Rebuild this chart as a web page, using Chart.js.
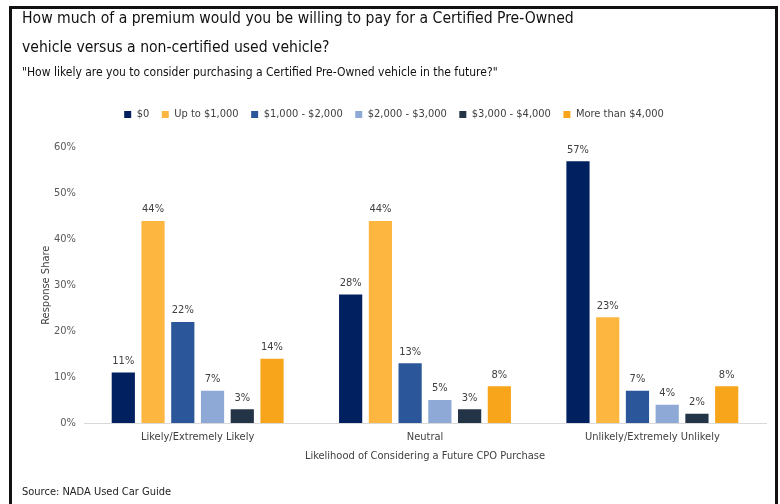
<!DOCTYPE html>
<html lang="en">
<head>
<meta charset="utf-8">
<title>CPO premium by purchase likelihood</title>
<script src="https://cdn.jsdelivr.net/npm/chart.js@4.4.0/dist/chart.umd.min.js"></script>
<style>
  html, body { margin: 0; padding: 0; background: #fff; }
</style>
</head>
<body>
<canvas id="cpoChart" width="780" height="504"></canvas>
<script>
// survey answers, % of respondents
const categories = ['Likely/Extremely Likely', 'Neutral', 'Unlikely/Extremely Unlikely'];
const premiumNone = [11, 28, 57];
const premiumUpTo1000 = [44, 44, 23];
const premium1000to2000 = [22, 13, 7];
const premium2000to3000 = [7, 5, 4];
const premium3000to4000 = [3, 3, 2];
const premiumOver4000 = [14, 8, 8];
const seriesNames = ['$0', 'Up to $1,000', '$1,000 - $2,000', '$2,000 - $3,000', '$3,000 - $4,000', 'More than $4,000'];
const yMax = 60;
const yStep = 10;

const FONT = '"DejaVu Sans Condensed", sans-serif';
const colors = ['#002060', '#FDB740', '#2B579A', '#8EA9D6', '#243447', '#F8A51B'];
const values = [premiumNone, premiumUpTo1000, premium1000to2000, premium2000to3000, premium3000to4000, premiumOver4000];

// value labels above each bar
const barLabels = {
  id: 'barLabels',
  afterDatasetsDraw(chart) {
    const ctx = chart.ctx;
    ctx.save();
    ctx.font = '11px ' + FONT;
    ctx.fillStyle = '#404040';
    ctx.textAlign = 'center';
    ctx.textBaseline = 'bottom';
    chart.data.datasets.forEach((ds, i) => {
      chart.getDatasetMeta(i).data.forEach((bar, j) => {
        ctx.fillText(ds.data[j] + '%', bar.x, bar.y - 6);
      });
    });
    ctx.restore();
  }
};

// leave a gap between the legend row and the plot
const legendGap = {
  id: 'legendGap',
  beforeLayout(chart) {
    const lg = chart.legend;
    if (lg && !lg._gapPatched) {
      const fit = lg.fit;
      lg.fit = function () {
        fit.call(this);
        this.height += 17.5;
      };
      lg._gapPatched = true;
    }
  }
};

// black frame and the source note
const frame = {
  id: 'frame',
  afterDraw(chart) {
    const ctx = chart.ctx;
    ctx.save();
    ctx.strokeStyle = '#111';
    ctx.lineWidth = 3;
    ctx.beginPath();
    ctx.moveTo(10.5, 504);
    ctx.lineTo(10.5, 7.5);
    ctx.lineTo(776.5, 7.5);
    ctx.lineTo(776.5, 504);
    ctx.stroke();
    ctx.font = '11px ' + FONT;
    ctx.fillStyle = '#222';
    ctx.textBaseline = 'middle';
    ctx.fillText('Source: NADA Used Car Guide', 22, 492);
    ctx.restore();
  }
};

new Chart(document.getElementById('cpoChart'), {
  type: 'bar',
  data: {
    labels: categories,
    datasets: values.map((v, i) => ({
      label: seriesNames[i],
      data: v,
      backgroundColor: colors[i],
      borderWidth: 0,
      categoryPercentage: 0.785,
      barPercentage: 0.78
    }))
  },
  options: {
    responsive: false,
    animation: false,
    layout: { padding: { left: 22, right: 14, top: 0, bottom: 31 } },
    plugins: {
      title: {
        display: true,
        align: 'start',
        text: ['How much of a premium would you be willing to pay for a Certified Pre-Owned', 'vehicle versus a non-certified used vehicle?'],
        color: '#111',
        font: { family: FONT, size: 15.6, weight: 'normal', lineHeight: 29 / 15.6 },
        padding: { top: 4, bottom: 0 }
      },
      subtitle: {
        display: true,
        align: 'start',
        text: '"How likely are you to consider purchasing a Certified Pre-Owned vehicle in the future?"',
        color: '#111',
        font: { family: FONT, size: 12, lineHeight: 1.2 },
        padding: { top: 4, bottom: 16 }
      },
      legend: {
        position: 'top',
        labels: {
          boxWidth: 7,
          boxHeight: 7,
          padding: 12.5,
          color: '#404040',
          font: { family: FONT, size: 11 }
        }
      },
      tooltip: { enabled: false }
    },
    scales: {
      x: {
        grid: { display: false, drawTicks: false },
        border: { color: '#d9d9d9', width: 1 },
        ticks: { color: '#404040', padding: 8, font: { family: FONT, size: 11 } },
        title: {
          display: true,
          text: 'Likelihood of Considering a Future CPO Purchase',
          color: '#404040',
          font: { family: FONT, size: 11, lineHeight: 1.2 },
          padding: { top: 0, bottom: 10 }
        },
        afterFit(scale) { scale.height = 50; }
      },
      y: {
        min: 0,
        max: yMax,
        grid: { display: false, drawTicks: false },
        border: { display: false },
        ticks: {
          stepSize: yStep,
          padding: 8,
          color: '#595959',
          font: { family: FONT, size: 11 },
          callback: v => v + '%'
        },
        title: {
          display: true,
          text: 'Response Share',
          color: '#404040',
          font: { family: FONT, size: 11, lineHeight: 1.2 },
          padding: { top: 18, bottom: 0 }
        },
        afterFit(scale) { scale.width = 62; }
      }
    }
  },
  plugins: [barLabels, legendGap, frame]
});
</script>
</body>
</html>
